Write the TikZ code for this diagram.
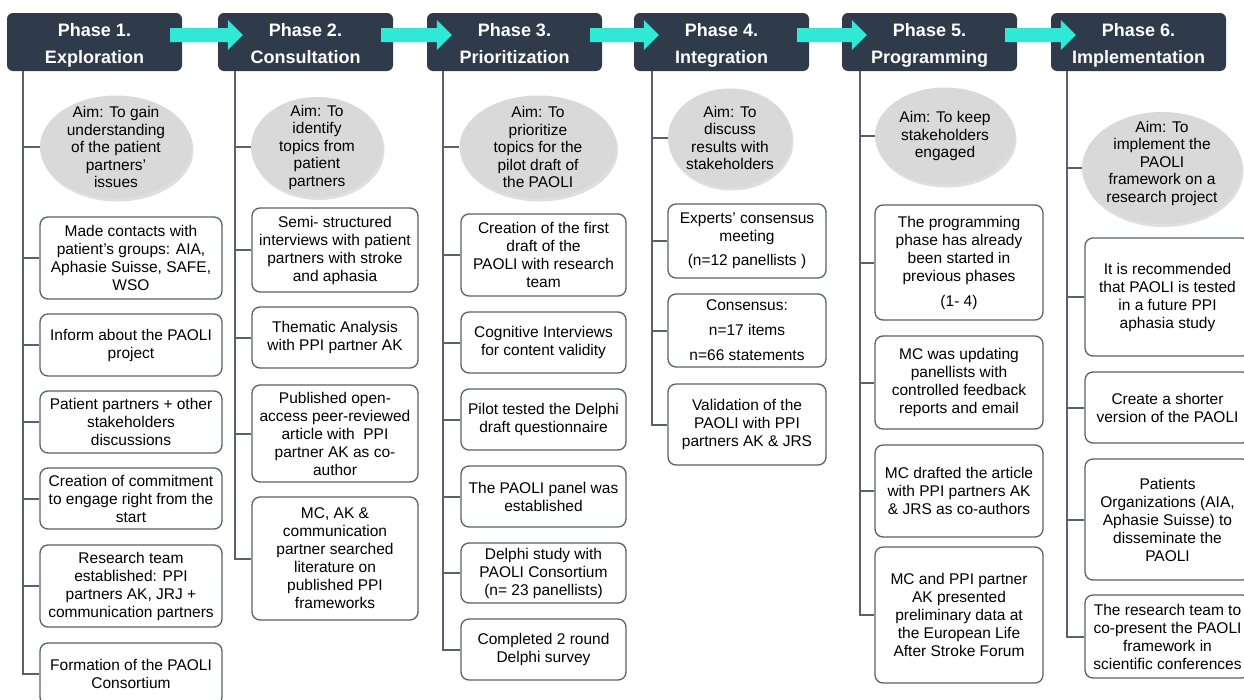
\documentclass[tikz,border=0pt]{standalone}
\usepackage{fontspec}
\setmainfont{Liberation Sans}
\usetikzlibrary{shapes.geometric,shadows,calc}
\definecolor{hdr}{HTML}{2F3B4B}
\definecolor{arr}{HTML}{2FE8D6}
\definecolor{lnc}{HTML}{59616C}
\definecolor{ell}{HTML}{D9D9D9}
\newcommand\blockarrow[2]{%
  \fill[arrowc] ($(#1.east)+(-12,-14)$) -- ($(#2.west)+(10,-14)$) -- ($(#2.west)+(10,-22)$)
    -- ($(#2.west)+(25,-7)$) -- ($(#2.west)+(10,8)$) -- ($(#2.west)+(10,0)$)
    -- ($(#1.east)+(-12,0)$) -- cycle;}
\begin{document}
\begin{tikzpicture}[x=1pt,y=-1pt,
  hdrbox/.style={fill=hdr, rounded corners=6pt, minimum width=175pt, minimum height=58pt, inner sep=0pt},
  hdrtext/.style={text=white, font=\fontsize{18}{27}\selectfont\bfseries, align=center, inner sep=0pt},
  aim/.style={ellipse, fill=ell, draw=none, inner sep=0pt,
    drop shadow={opacity=0.25, shadow xshift=1.5pt, shadow yshift=-3pt}},
  aimtext/.style={align=center, inner sep=0pt, font=\fontsize{15.5}{17.5}\selectfont},
  stepbox/.style={draw=lnc, line width=1.3pt, fill=white, rounded corners=8pt,
    align=center, inner sep=0pt, font=\fontsize{15.5}{18}\selectfont},
  ln/.style={draw=lnc, line width=2pt},
  arrowc/.style={fill=arr}]
\fill[white] (0,0) rectangle (1244,699);
\useasboundingbox (0,0) rectangle (1244,699);

% headers
\node[hdrbox] (h1) at (94.5,42) {};
\node[hdrbox] (h2) at (305.5,42) {};
\node[hdrbox] (h3) at (514.5,42) {};
\node[hdrbox] (h4) at (721.5,42) {};
\node[hdrbox] (h5) at (929.5,42) {};
\node[hdrbox] (h6) at (1138.5,42) {};
\node[hdrtext] (ht1) at ($(h1.center)+(0,3)$) {\vphantom{P}Phase 1.\\Exploration\vphantom{p}};
\node[hdrtext] (ht2) at ($(h2.center)+(0,3)$) {\vphantom{P}Phase 2.\\Consultation\vphantom{p}};
\node[hdrtext] (ht3) at ($(h3.center)+(0,3)$) {\vphantom{P}Phase 3.\\Prioritization\vphantom{p}};
\node[hdrtext] (ht4) at ($(h4.center)+(0,3)$) {\vphantom{P}Phase 4.\\Integration\vphantom{p}};
\node[hdrtext] (ht5) at ($(h5.center)+(0,3)$) {\vphantom{P}Phase 5.\\Programming\vphantom{p}};
\node[hdrtext] (ht6) at ($(h6.center)+(0,3)$) {\vphantom{P}Phase 6.\\Implementation\vphantom{p}};

\blockarrow{h1}{h2}
\blockarrow{h2}{h3}
\blockarrow{h3}{h4}
\blockarrow{h4}{h5}
\blockarrow{h5}{h6}

% spine coordinates
\coordinate (l1) at (23,71);
\coordinate (l2) at (235,71);
\coordinate (l3) at (443,71);
\coordinate (l4) at (652,71);
\coordinate (l5) at (860,71);
\coordinate (l6) at (1067,71);

% column 1
\node[aim, minimum width=152pt, minimum height=103pt] (e1) at (116,147) {};
\node[aimtext] (t1) at (e1.center) {Aim: To gain\\understanding\\of the patient\\partners'\\issues};
\node[stepbox, minimum width=182pt, minimum height=82pt] (b11) at (131,258) {Made contacts with\\patient's groups: AIA,\\Aphasie Suisse, SAFE,\\WSO};
\node[stepbox, minimum width=182pt, minimum height=62pt] (b12) at (131,345) {Inform about the PAOLI\\project};
\node[stepbox, minimum width=182pt, minimum height=62pt] (b13) at (131,422) {Patient partners + other\\stakeholders\\discussions};
\node[stepbox, minimum width=182pt, minimum height=61pt] (b14) at (131,498.5) {Creation of commitment\\to engage right from the\\start};
\node[stepbox, minimum width=182pt, minimum height=82pt] (b15) at (131,586) {Research team\\established: PPI\\partners AK, JRJ +\\communication partners};
\node[stepbox, minimum width=182pt, minimum height=62pt] (b16) at (131,674) {Formation of the PAOLI\\Consortium};
\foreach \n in {e1,b11,b12,b13,b14,b15,b16} \draw[ln] (l1) |- (\n.west);

% column 2
\node[aim, minimum width=132pt, minimum height=100pt] (e2) at (317,147) {};
\node[aimtext] (t2) at (e2.center) {Aim: To\\identify\\topics from\\patient\\partners};
\node[stepbox, minimum width=166pt, minimum height=84pt] (b21) at (335,250) {Semi- structured\\interviews with patient\\partners with stroke\\and aphasia};
\node[stepbox, minimum width=166pt, minimum height=61pt] (b22) at (335,337.5) {Thematic Analysis\\with PPI partner AK};
\node[stepbox, minimum width=166pt, minimum height=97pt] (b23) at (335,433.5) {Published open-\\access peer-reviewed\\article with\ \ PPI\\partner AK as co-\\author};
\node[stepbox, minimum width=166pt, minimum height=123pt] (b24) at (335,558.5) {MC, AK \&\\communication\\partner searched\\literature on\\published PPI\\frameworks};
\foreach \n in {e2,b21,b22,b23,b24} \draw[ln] (l2) |- (\n.west);

% column 3
\node[aim, minimum width=157pt, minimum height=103pt] (e3) at (538,147) {};
\node[aimtext] (t3) at (e3.center) {Aim: To\\prioritize\\topics for the\\pilot draft of\\the PAOLI};
\node[stepbox, minimum width=165pt, minimum height=82pt] (b31) at (543.5,255) {Creation of the first\\draft of the\\PAOLI with research\\team};
\node[stepbox, minimum width=165pt, minimum height=61pt] (b32) at (543.5,342.5) {Cognitive Interviews\\for content validity};
\node[stepbox, minimum width=165pt, minimum height=61pt] (b33) at (543.5,419.5) {Pilot tested the Delphi\\draft questionnaire};
\node[stepbox, minimum width=165pt, minimum height=61pt] (b34) at (543.5,496.5) {The PAOLI panel was\\established};
\node[stepbox, minimum width=165pt, minimum height=60pt] (b35) at (543.5,573) {Delphi study with\\PAOLI Consortium\\(n= 23 panellists)};
\node[stepbox, minimum width=165pt, minimum height=61pt] (b36) at (543.5,649.5) {Completed 2 round\\Delphi survey};
\foreach \n in {e3,b31,b32,b33,b34,b35,b36} \draw[ln] (l3) |- (\n.west);

% column 4
\node[aim, minimum width=124pt, minimum height=99pt] (e4) at (730,138) {};
\node[aimtext] (t4) at (e4.center) {Aim: To\\discuss\\results with\\stakeholders};
\node[stepbox, minimum width=158pt, minimum height=74pt] (b41) at (747,241) {Experts' consensus\\meeting\\[6pt](n=12 panellists )};
\node[stepbox, minimum width=158pt, minimum height=73pt] (b42) at (747,330.5) {Consensus:\\[7pt]n=17 items\\[7pt]n=66 statements};
\node[stepbox, minimum width=158pt, minimum height=81pt] (b43) at (747,424.5) {Validation of the\\PAOLI with PPI\\partners AK \& JRS};
\foreach \n in {e4,b41,b42,b43} \draw[ln] (l4) |- (\n.west);

% column 5
\node[aim, minimum width=140pt, minimum height=97pt] (e5) at (945,136) {};
\node[aimtext] (t5) at (e5.center) {Aim: To keep\\stakeholders\\engaged};
\node[stepbox, minimum width=168pt, minimum height=115pt] (b51) at (959,262.5) {The programming\\phase has already\\been started in\\previous phases\\[7pt](1- 4)};
\node[stepbox, minimum width=168pt, minimum height=93pt] (b52) at (959,382.5) {MC was updating\\panellists with\\controlled feedback\\reports and email};
\node[stepbox, minimum width=168pt, minimum height=92pt] (b53) at (959,491) {MC drafted the article\\with PPI partners AK\\\& JRS as co-authors};
\node[stepbox, minimum width=168pt, minimum height=136pt] (b54) at (959,615) {MC and PPI partner\\AK presented\\preliminary data at\\the European Life\\After Stroke Forum};
\foreach \n in {e5,b51,b52,b53,b54} \draw[ln] (l5) |- (\n.west);

% column 6
\node[aim, minimum width=160pt, minimum height=112pt] (e6) at (1162,168) {};
\node[aimtext] (t6) at ($(e6.center)+(0,-5)$) {Aim: To\\implement the\\PAOLI\\framework on a\\research project};
\node[stepbox, minimum width=165pt, minimum height=118pt] (b61) at (1167.5,297) {It is recommended\\that PAOLI is tested\\in a future PPI\\aphasia study};
\node[stepbox, minimum width=165pt, minimum height=71pt] (b62) at (1167.5,407.5) {Create a shorter\\version of the PAOLI};
\node[stepbox, minimum width=165pt, minimum height=121pt] (b63) at (1167.5,519.5) {Patients\\Organizations (AIA,\\Aphasie Suisse) to\\disseminate the\\PAOLI};
\node[stepbox, minimum width=165pt, minimum height=83pt] (b64) at (1167.5,636.5) {The research team to\\co-present the PAOLI\\framework in\\scientific conferences};
\foreach \n in {e6,b61,b62,b63,b64} \draw[ln] (l6) |- (\n.west);
\end{tikzpicture}
\end{document}
